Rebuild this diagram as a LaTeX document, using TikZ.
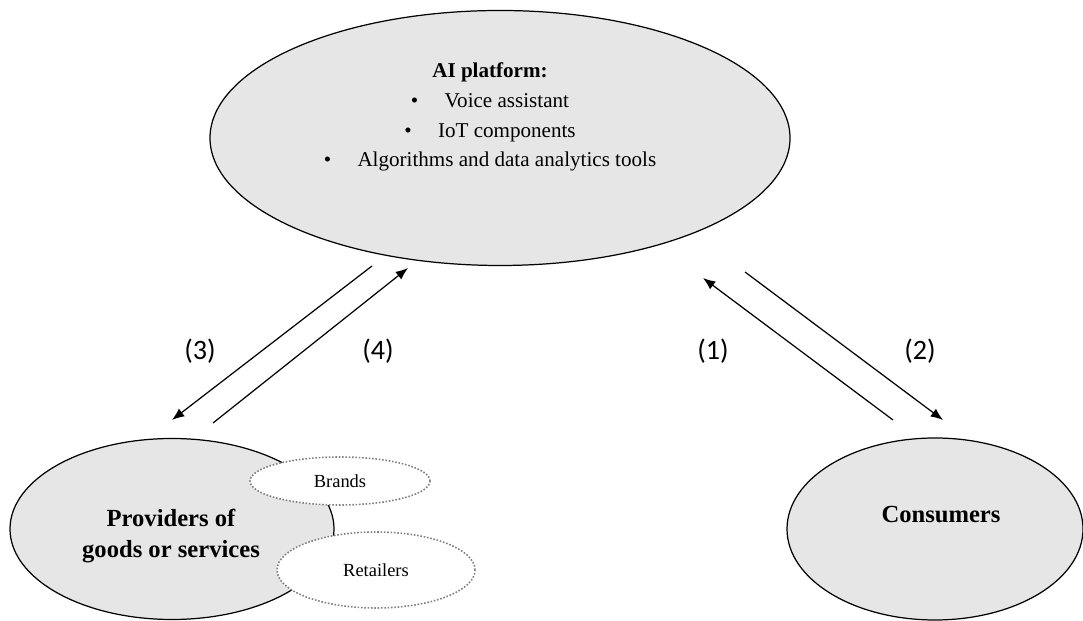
\documentclass[tikz,border=0pt]{standalone}
\usepackage{fontspec}
\setmainfont{Liberation Serif}
\newfontfamily\numfont{Carlito}
\usetikzlibrary{arrows.meta,shapes,positioning}
\definecolor{ellgray}{RGB}{230,230,230}
\tikzset{bigell/.style={draw, ellipse, fill=ellgray, inner sep=0pt, line width=0.7pt},
subell/.style={draw=gray, densely dotted, ellipse, fill=white, inner sep=0pt, line width=0.9pt},
flow/.style={-{Latex[length=7pt,width=5.5pt]}, line width=0.7pt},
numlab/.style={font=\numfont\fontsize{16}{18}\selectfont}}

\begin{document}
\begin{tikzpicture}
\useasboundingbox (0,0) rectangle (21.66,12.42);

% platform
\node[bigell, minimum width=11.6cm, minimum height=5.1cm] (platform) at (10.0,9.66) {};
\node[align=center, font=\fontsize{12}{17}\selectfont] (platformtext) at (9.8,10.08)
  {\textbf{AI platform:}\\
   \textbullet\hspace{15pt}Voice assistant\\
   \textbullet\hspace{15pt}IoT components\\
   \textbullet\hspace{15pt}Algorithms and data analytics tools};

% providers
\node[bigell, minimum width=6.48cm, minimum height=3.62cm] (providers) at (3.44,1.84) {};
\node[subell, minimum width=3.6cm, minimum height=0.96cm, font=\fontsize{10.5}{12}\selectfont] (brands) at (6.8,2.8) {Brands};
\node[subell, minimum width=3.96cm, minimum height=1.52cm, font=\fontsize{10.5}{12}\selectfont] (retailers) at (7.52,1.02) {Retailers};
\node[align=center, font=\fontsize{14}{18}\bfseries] (providerstext) at (3.42,1.7) {Providers of\\goods or services};

% consumers
\node[bigell, minimum width=5.92cm, minimum height=3.64cm] (consumers) at (18.7,1.84) {};
\node[font=\fontsize{14}{18}\bfseries] (consumerstext) at (18.82,2.12) {Consumers};

% arrow ends
\coordinate (a3) at (7.44,7.1);
\coordinate (b3) at (3.44,4.02);
\coordinate (a4) at (4.26,3.96);
\coordinate (b4) at (8.16,7.06);
\coordinate (a1) at (17.86,4.02);
\coordinate (b1) at (14.06,6.86);
\coordinate (a2) at (14.9,6.98);
\coordinate (b2) at (18.86,4.02);

\draw[flow] (a3) -- (b3);
\draw[flow] (a4) -- (b4);
\draw[flow] (a1) -- (b1);
\draw[flow] (a2) -- (b2);

\node[numlab] (l3) at (4.0,5.4) {(3)};
\node[numlab] (l4) at (7.56,5.4) {(4)};
\node[numlab] (l1) at (14.26,5.4) {(1)};
\node[numlab] (l2) at (18.4,5.4) {(2)};

\end{tikzpicture}
\end{document}
